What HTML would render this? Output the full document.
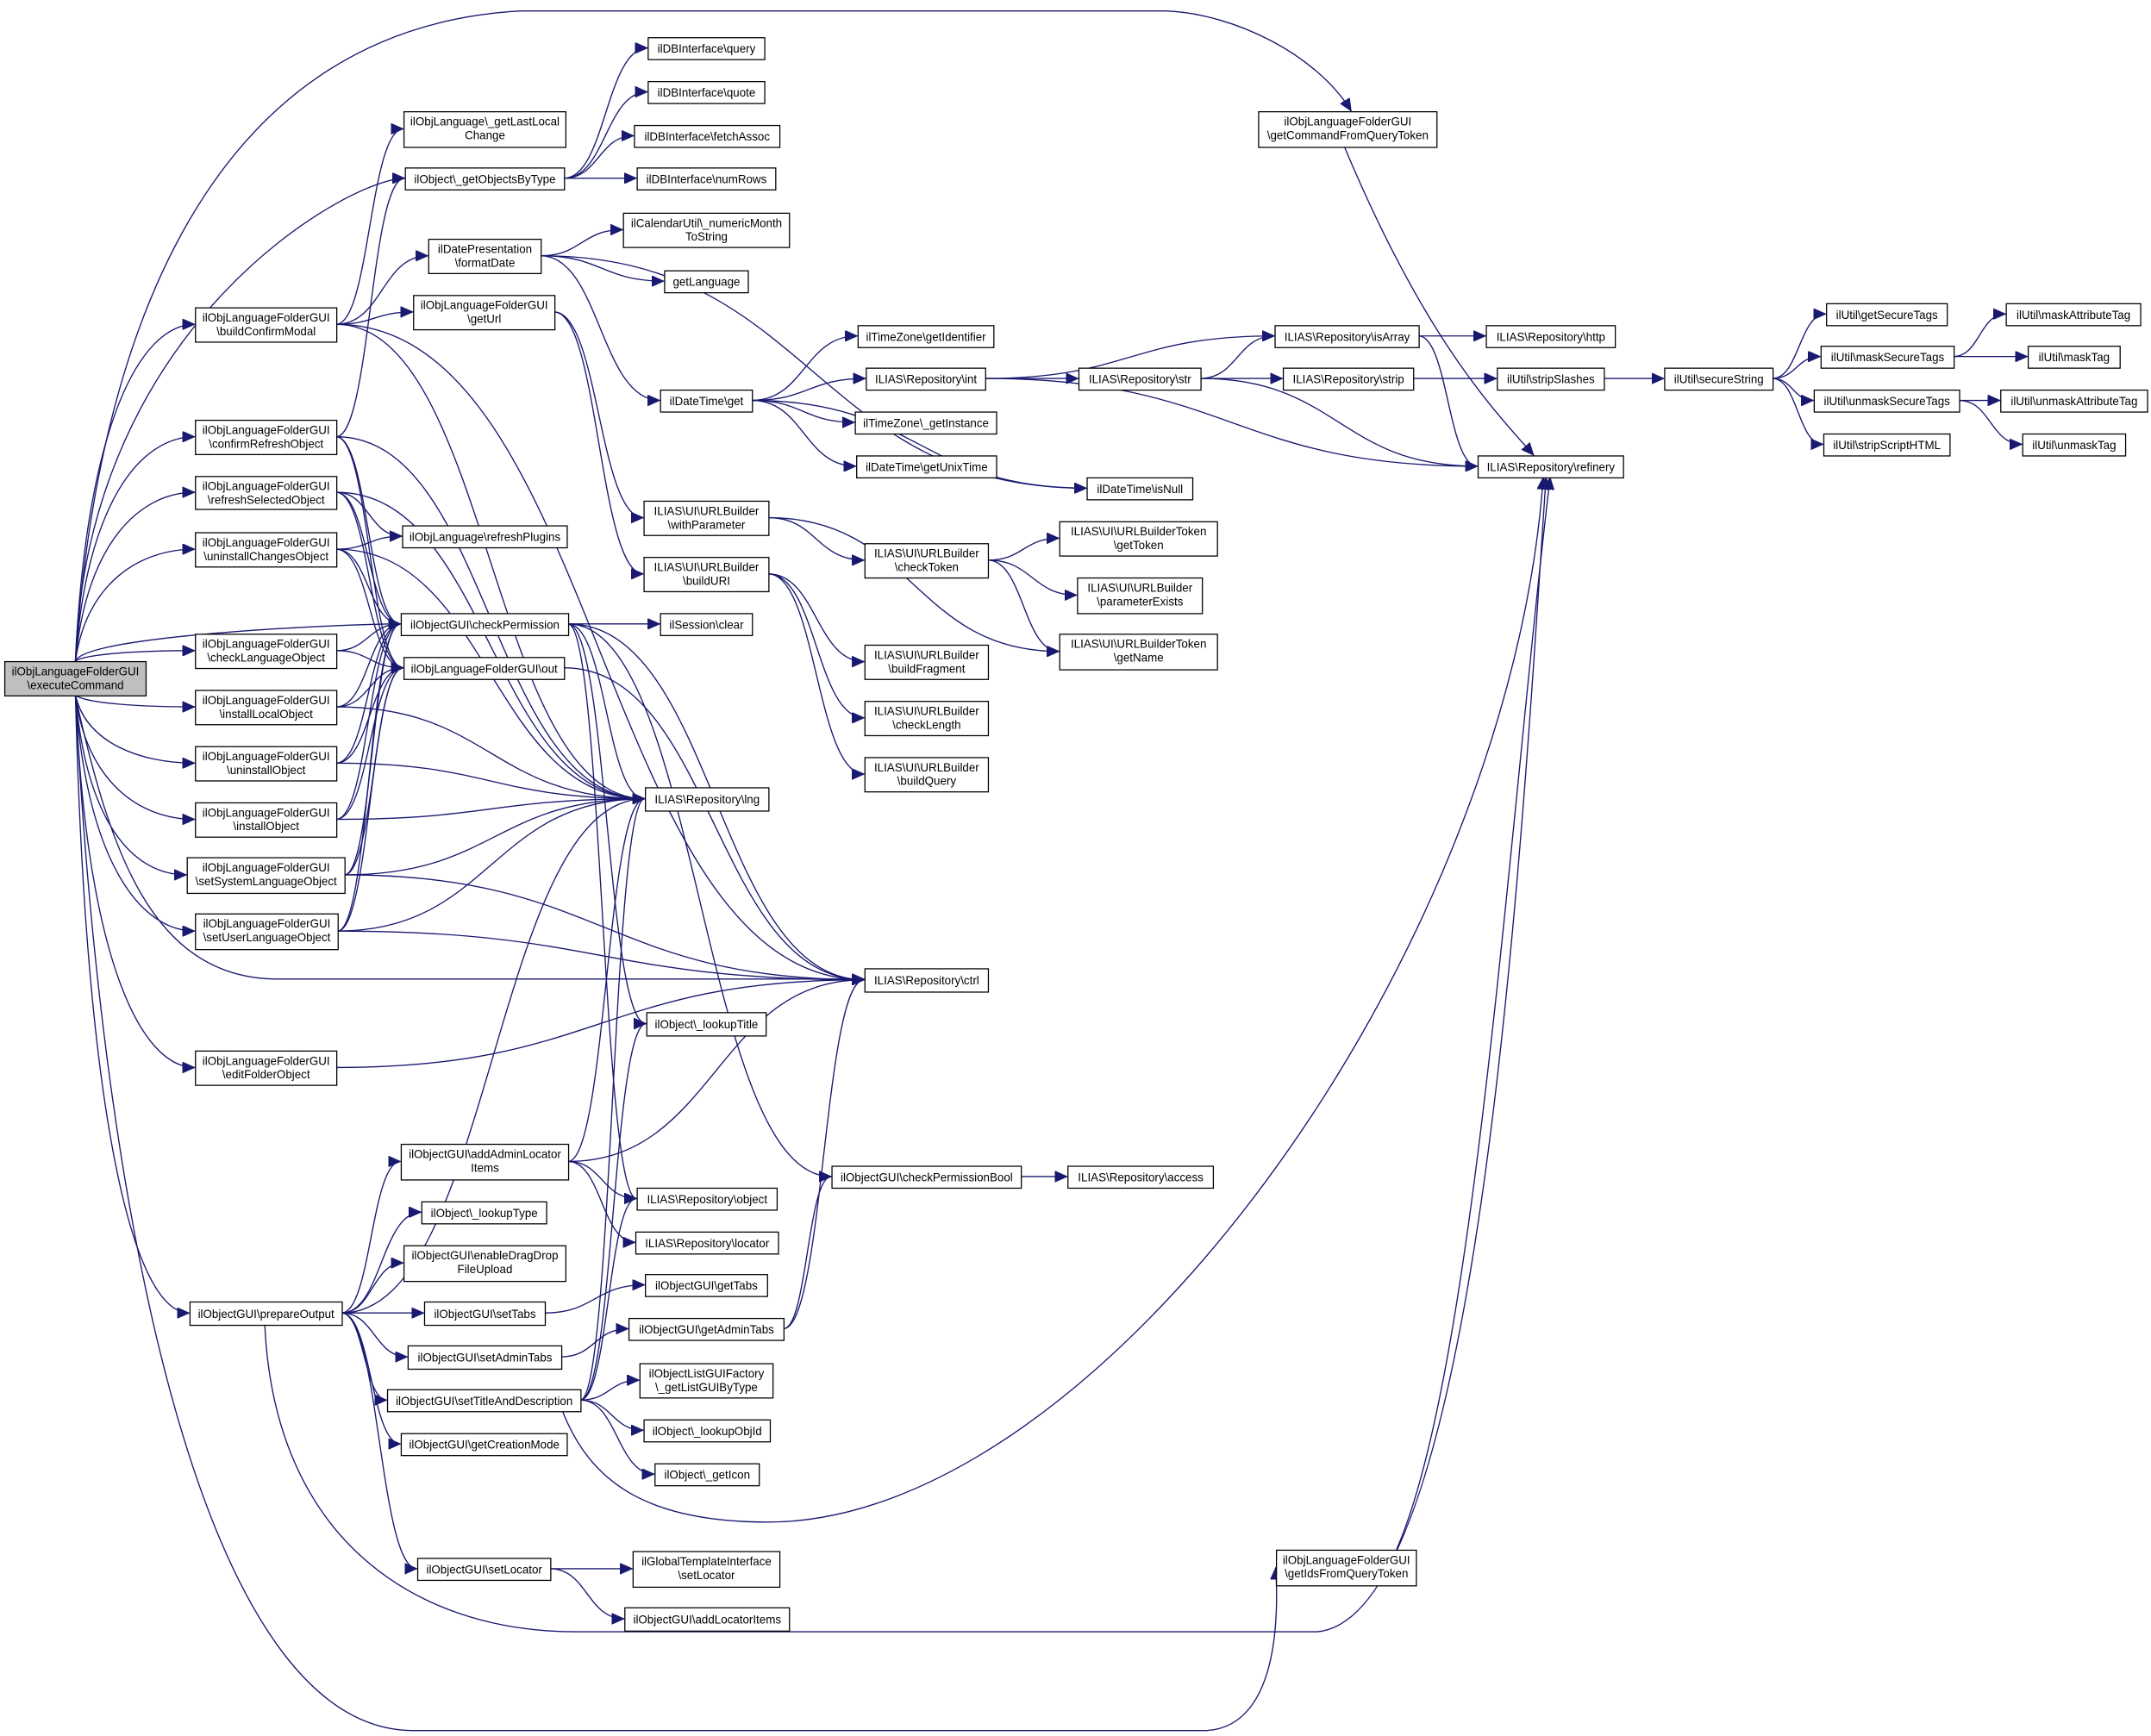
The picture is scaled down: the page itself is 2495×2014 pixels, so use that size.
<!DOCTYPE html>
<html><head><meta charset="utf-8">
<style>
html,body{margin:0;padding:0;background:#fff;}
svg{display:block;}
text{font-family:"Liberation Sans",Arial,sans-serif;font-size:8.4px;fill:#000;}
</style></head>
<body>
<svg id="g" width="2495" height="2014" viewBox="0 0 1568 1266" preserveAspectRatio="none" xmlns="http://www.w3.org/2000/svg">
<defs>
<marker id="a" markerUnits="userSpaceOnUse" markerWidth="10" markerHeight="8" refX="9" refY="4" orient="auto">
<path d="M0,0 L9,4 L0,8 z" fill="#191970" stroke="#191970" stroke-width="0.5"/>
</marker>
</defs>
<g id="edges" fill="none" stroke="#191970" stroke-width="0.85"></g>
<g id="nodes"></g>
</svg>
<script>
var N={
E:[3,482,103,25,"ilObjLanguageFolderGUI","\\executeCommand",1],
GLC:[294,81,118,26,"ilObjLanguage\\_getLastLocal","Change"],
GOT:[295,122,116,16,"ilObject\\_getObjectsByType"],
Q:[472,27,85,16,"ilDBInterface\\query"],
QU:[472,59,85,16,"ilDBInterface\\quote"],
FA:[462,91,106,16,"ilDBInterface\\fetchAssoc"],
NR:[464,122,101,16,"ilDBInterface\\numRows"],
FD:[312,174,82,25,"ilDatePresentation","\\formatDate"],
NM:[454,155,121,25,"ilCalendarUtil\\_numericMonth","ToString"],
GL:[484,197,61,16,"getLanguage"],
GU:[301,215,103,25,"ilObjLanguageFolderGUI","\\getUrl"],
DG:[481,284,67,16,"ilDateTime\\get"],
TZI:[625,237,99,16,"ilTimeZone\\getIdentifier"],
INT:[631,268,87,16,"ILIAS\\Repository\\int"],
TZG:[623,300,103,16,"ilTimeZone\\_getInstance"],
UT:[624,332,102,16,"ilDateTime\\getUnixTime"],
NUL:[792,348,77,16,"ilDateTime\\isNull"],
ISA:[929,237,105,16,"ILIAS\\Repository\\isArray"],
HT:[1083,237,94,16,"ILIAS\\Repository\\http"],
STR:[786,268,89,16,"ILIAS\\Repository\\str"],
STP:[935,268,95,16,"ILIAS\\Repository\\strip"],
SS:[1091,268,78,16,"ilUtil\\stripSlashes"],
REF:[1077,332,106,16,"ILIAS\\Repository\\refinery"],
SEC:[1213,268,79,16,"ilUtil\\secureString"],
GST:[1331,221,88,16,"ilUtil\\getSecureTags"],
MST:[1327,252,97,16,"ilUtil\\maskSecureTags"],
UST:[1322,284,106,16,"ilUtil\\unmaskSecureTags"],
SSH:[1329,316,92,16,"ilUtil\\stripScriptHTML"],
MAT:[1462,221,98,16,"ilUtil\\maskAttributeTag"],
MT:[1478,252,67,16,"ilUtil\\maskTag"],
UAT:[1458,284,107,16,"ilUtil\\unmaskAttributeTag",2],
UMT:[1474,316,75,16,"ilUtil\\unmaskTag"],
GCQ:[917,81,130,26,"ilObjLanguageFolderGUI","\\getCommandFromQueryToken"],
WP:[469,365,91,25,"ILIAS\\UI\\URLBuilder","\\withParameter"],
CT:[630,396,90,25,"ILIAS\\UI\\URLBuilder","\\checkToken"],
BU:[469,406,91,25,"ILIAS\\UI\\URLBuilder","\\buildURI"],
GT:[772,380,115,25,"ILIAS\\UI\\URLBuilderToken","\\getToken"],
PE:[785,421,91,26,"ILIAS\\UI\\URLBuilder","\\parameterExists"],
GN:[772,462,115,26,"ILIAS\\UI\\URLBuilderToken","\\getName"],
BF:[630,470,90,25,"ILIAS\\UI\\URLBuilder","\\buildFragment"],
CL:[630,511,90,25,"ILIAS\\UI\\URLBuilder","\\checkLength"],
BQ:[630,552,90,25,"ILIAS\\UI\\URLBuilder","\\buildQuery"],
RP:[293,383,120,16,"ilObjLanguage\\refreshPlugins"],
CP:[292,447,122,16,"ilObjectGUI\\checkPermission"],
SC:[481,447,67,16,"ilSession\\clear"],
OUT:[294,479,117,16,"ilObjLanguageFolderGUI\\out"],
LNG:[470,574,90,17,"ILIAS\\Repository\\lng"],
CTRL:[630,706,90,17,"ILIAS\\Repository\\ctrl"],
LT:[471,738,87,17,"ilObject\\_lookupTitle"],
CPB:[606,850,138,16,"ilObjectGUI\\checkPermissionBool"],
ACC:[778,850,106,16,"ILIAS\\Repository\\access"],
OBJ:[464,866,102,16,"ILIAS\\Repository\\object"],
LOC:[463,898,104,16,"ILIAS\\Repository\\locator"],
GTB:[470,929,89,16,"ilObjectGUI\\getTabs"],
GAT:[458,961,113,16,"ilObjectGUI\\getAdminTabs"],
LGF:[466,994,97,25,"ilObjectListGUIFactory","\\_getListGUIByType"],
LOI:[469,1035,92,16,"ilObject\\_lookupObjId"],
GI:[477,1067,76,16,"ilObject\\_getIcon"],
GTS:[461,1131,107,26,"ilGlobalTemplateInterface","\\setLocator"],
ALI:[455,1172,120,17,"ilObjectGUI\\addLocatorItems"],
BCM:[142,224,103,25,"ilObjLanguageFolderGUI","\\buildConfirmModal"],
CRO:[142,306,103,25,"ilObjLanguageFolderGUI","\\confirmRefreshObject"],
RSO:[142,347,103,24,"ilObjLanguageFolderGUI","\\refreshSelectedObject"],
UCO:[142,388,103,25,"ilObjLanguageFolderGUI","\\uninstallChangesObject"],
CLO:[142,462,103,25,"ilObjLanguageFolderGUI","\\checkLanguageObject"],
ILO:[142,503,103,25,"ilObjLanguageFolderGUI","\\installLocalObject"],
UO:[142,544,103,25,"ilObjLanguageFolderGUI","\\uninstallObject"],
IO:[142,585,103,25,"ilObjLanguageFolderGUI","\\installObject"],
SSL:[136,625,115,26,"ilObjLanguageFolderGUI","\\setSystemLanguageObject"],
SUL:[142,666,104,26,"ilObjLanguageFolderGUI","\\setUserLanguageObject"],
EFO:[142,766,103,25,"ilObjLanguageFolderGUI","\\editFolderObject"],
PO:[138,949,111,17,"ilObjectGUI\\prepareOutput"],
AAL:[292,834,122,26,"ilObjectGUI\\addAdminLocator","Items"],
LTY:[307,876,91,16,"ilObject\\_lookupType"],
EDD:[294,908,118,26,"ilObjectGUI\\enableDragDrop","FileUpload"],
STB:[309,949,88,17,"ilObjectGUI\\setTabs"],
SAT:[297,981,112,17,"ilObjectGUI\\setAdminTabs"],
STD:[282,1013,141,16,"ilObjectGUI\\setTitleAndDescription"],
GCM:[292,1045,121,16,"ilObjectGUI\\getCreationMode"],
SL:[304,1136,97,16,"ilObjectGUI\\setLocator"],
GIQ:[930,1130,102,26,"ilObjLanguageFolderGUI","\\getIdsFromQueryToken"]
};
var E=[
"E GOT","E BCM","E CRO","E RSO","E UCO","E CP","E CLO","E ILO","E UO","E IO","E SSL","E SUL","E EFO","E PO",
"GOT Q","GOT QU","GOT FA","GOT NR",
"BCM GLC","BCM FD","BCM GU","BCM LNG","BCM CTRL",
"FD NM","FD GL","FD DG","FD NUL",
"GU WP","GU BU",
"DG TZI","DG INT","DG TZG","DG UT","DG NUL",
"INT ISA","INT STR","INT REF","STR ISA","STR STP","STR REF","ISA HT","ISA REF",
"STP SS","SS SEC","SEC GST","SEC MST","SEC UST","SEC SSH","MST MAT","MST MT","UST UAT","UST UMT",
"WP CT","WP GN","CT GT","CT PE","CT GN","BU BF","BU CL","BU BQ",
"CRO GOT","CRO CP","CRO OUT","CRO LNG",
"RSO RP","RSO CP","RSO OUT","RSO LNG",
"UCO RP","UCO CP","UCO OUT","UCO LNG",
"CLO CP","CLO OUT","ILO CP","ILO OUT","ILO LNG","UO CP","UO OUT","UO LNG","IO CP","IO OUT","IO LNG",
"SSL CP","SSL OUT","SSL LNG","SSL CTRL","SUL CP","SUL OUT","SUL LNG","SUL CTRL",
"CP SC","CP LNG","CP LT","CP CTRL","CP OBJ","CP CPB","OUT CTRL","EFO CTRL",
"PO AAL","PO LTY","PO EDD","PO STB","PO SAT","PO STD","PO GCM","PO SL","PO LNG",
"AAL LNG","AAL CTRL","AAL OBJ","AAL LOC","STB GTB","SAT GAT","GAT CPB","GAT CTRL","CPB ACC",
"STD LT","STD OBJ","STD LGF","STD LOI","STD GI","STD LNG","SL GTS","SL ALI"
];
var NS="http://www.w3.org/2000/svg";
var ge=document.getElementById("edges"),gn=document.getElementById("nodes");
function el(p,t,a){var e=document.createElementNS(NS,t);for(var k in a)e.setAttribute(k,a[k]);p.appendChild(e);return e;}
function path(d){el(ge,"path",{d:d,"marker-end":"url(#a)"});}
E.forEach(function(s){
 var p=s.split(" "),a=N[p[0]],b=N[p[1]];
 var tx=b[0],ty=b[1]+b[3]/2,sx,sy,d;
 if(p[0]=="E"){
  sx=55;sy=ty<a[1]?a[1]:a[1]+a[3];
  d="M"+sx+","+sy+" C"+(sx+8)+","+(sy+(ty-sy)*0.7)+" "+(tx-40)+","+ty+" "+tx+","+ty;
 } else {
  sx=a[0]+a[2];sy=a[1]+a[3]/2;
  var dx=tx-sx;
  d="M"+sx+","+sy+" C"+(sx+dx*0.5)+","+sy+" "+(tx-dx*0.5)+","+ty+" "+tx+","+ty;
 }
 path(d);
});
path("M55,482 C70,250 150,20 380,8 L850,8 C900,10 960,40 985,81");
path("M55,508 C75,900 150,1260 300,1262 L880,1262 C940,1258 930,1150 930,1143");
path("M55,508 C80,620 110,712 200,714 L630,714");
path("M980,107 C1040,250 1090,300 1118,332");
path("M1018,1130 C1075,1000 1100,600 1130,348");
path("M193,966 C200,1120 300,1190 420,1190 L960,1190 C1080,1180 1110,600 1127,348");
path("M410,1029 C430,1080 470,1110 560,1110 C800,1110 1100,700 1125,348");
Object.keys(N).forEach(function(k){
 var n=N[k];
 el(gn,"rect",{x:n[0]+0.5,y:n[1]+0.5,width:n[2],height:n[3],fill:n[6]==1?"#bfbfbf":"#fff",stroke:n[6]==2?"#ff0000":"#000","stroke-width":0.8});
 var cx=n[0]+n[2]/2+0.5;
 if(n.length>5&&typeof n[5]=="string"){
  var t=el(gn,"text",{x:cx,y:n[1]+10.5,"text-anchor":"middle"});t.textContent=n[4];
  var t2=el(gn,"text",{x:cx,y:n[1]+20.5,"text-anchor":"middle"});t2.textContent=n[5];
 } else {
  var t=el(gn,"text",{x:cx,y:n[1]+n[3]/2+3.5,"text-anchor":"middle"});t.textContent=n[4];
 }
});
</script>
</body></html>
